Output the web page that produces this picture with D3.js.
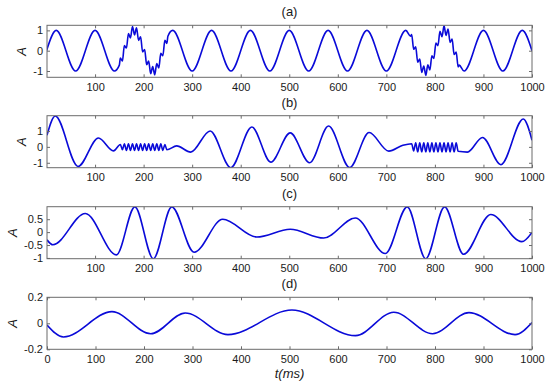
<!DOCTYPE html>
<html>
<head>
<meta charset="utf-8">
<script src="https://cdn.jsdelivr.net/npm/d3@7"></script>
<style>
  body { margin: 0; background: #fff; }
  svg { font-family: "Liberation Sans", Arial, sans-serif; }
</style>
</head>
<body>
<div id="chart"></div>
<script>
const width = 550, height = 388;

// (a) signal: 12.5 Hz sine with two short high-frequency bursts (peaks / troughs)
const sigA = [
  [0, 0], [20, 1], [60, -1], [100, 1], [140, -1], [150, -0.71],
  [152.1, -0.36], [156.3, -0.51], [160.4, 0.25], [164.6, 0.13], [168.8, 0.85], [172.9, 0.63],
  [177.1, 1.19], [181.3, 0.78], [185.4, 1.13], [189.6, 0.51], [193.8, 0.69], [197.9, -0.06],
  [202.1, 0.06], [206.3, -0.69], [210.4, -0.51], [214.6, -1.13], [218.8, -0.78], [222.9, -1.19],
  [227.1, -0.63], [231.3, -0.85], [235.4, -0.13], [239.6, -0.25], [243.8, 0.51], [247.9, 0.36],
  [250, 0.71], [260, 1], [300, -1], [340, 1], [380, -1], [420, 1], [460, -1], [500, 1],
  [540, -1], [580, 1], [620, -1], [660, 1], [700, -1], [740, 1], [750, 0.71],
  [752.1, 0.80], [756.3, 0.07], [760.4, 0.19], [764.6, -0.57], [768.8, -0.41], [772.9, -1.07],
  [777.1, -0.75], [781.3, -1.22], [785.4, -0.69], [789.6, -0.95], [793.8, -0.25], [797.9, -0.38],
  [802.1, 0.38], [806.3, 0.25], [810.4, 0.95], [814.6, 0.69], [818.8, 1.22], [822.9, 0.75],
  [827.1, 1.07], [831.3, 0.41], [835.4, 0.57], [839.6, -0.19], [843.8, -0.07], [847.9, -0.80],
  [850, -0.71], [860, -1], [900, 1], [940, -1], [980, 1], [1000, 0]
];

// (b) first IMF
const sigB = [
  [1, 0.73], [18, 1.94], [65, -1.23], [107, 0.56], [138, -0.25],
  [152.1, 0.15], [156.3, -0.18], [160.4, 0.19], [164.6, -0.22], [168.8, 0.19], [172.9, -0.22],
  [177.1, 0.19], [181.3, -0.22], [185.4, 0.19], [189.6, -0.22], [193.8, 0.19], [197.9, -0.22],
  [202.1, 0.19], [206.3, -0.22], [210.4, 0.19], [214.6, -0.22], [218.8, 0.19], [222.9, -0.22],
  [227.1, 0.19], [231.3, -0.22], [235.4, 0.19], [239.6, -0.22], [243.8, 0.15], [247.9, -0.18],
  [268, 0.06], [297, -0.33], [337, 1.0], [379.5, -1.31], [423, 1.25], [462, -0.96],
  [502, 0.88], [542, -1.0], [581, 1.31], [624.5, -1.3], [664.5, 0.9], [705, -0.27], [734, 0.1],
  [752.1, 0.2], [756.3, -0.25], [760.4, 0.26], [764.6, -0.31], [768.8, 0.26], [772.9, -0.31],
  [777.1, 0.26], [781.3, -0.31], [785.4, 0.26], [789.6, -0.31], [793.8, 0.26], [797.9, -0.31],
  [802.1, 0.26], [806.3, -0.31], [810.4, 0.26], [814.6, -0.31], [818.8, 0.26], [822.9, -0.31],
  [827.1, 0.26], [831.3, -0.31], [835.4, 0.26], [839.6, -0.31], [843.8, 0.26], [847.9, -0.28],
  [867, -0.33], [898, 0.59], [936, -1.12], [982, 1.75], [1000, 0.42]
];

// (c) second IMF
const sigC = [
  [1, -0.3], [13, -0.49], [80, 0.72], [144, -0.88], [182, 0.98], [220, -1.03], [258, 0.98],
  [304, -0.78], [363, 0.5], [433, -0.19], [502, 0.11], [571, -0.23], [636, 0.55], [698, -0.83],
  [743, 0.98], [781, -1.03], [820, 0.98], [859, -0.86], [915, 0.68], [979, -0.37], [1000, -0.01]
];

// (d) third IMF
const sigD = [
  [0, -0.013], [34, -0.105], [134, 0.09], [214, -0.08], [285, 0.079], [373, -0.087],
  [505, 0.102], [636, -0.095], [715, 0.085], [795, -0.08], [870, 0.082], [965, -0.087], [1000, 0.005]
];

const xTicksABC = [100, 200, 300, 400, 500, 600, 700, 800, 900, 1000];
const xTicksD = [0, 100, 200, 300, 400, 500, 600, 700, 800, 900, 1000];
const yTicksA = [-1, 0, 1];
const yTicksB = [-1, 0, 1];
const yTicksC = [-1, -0.5, 0, 0.5];
const yTicksD = [-0.2, 0, 0.2];

const panels = [
  { title: "(a)", data: sigA, xDomain: [1, 1000], xTicks: xTicksABC, yDomain: [-1.31, 1.25], yTicks: yTicksA, top: 25.3 },
  { title: "(b)", data: sigB, xDomain: [1, 1000], xTicks: xTicksABC, yDomain: [-1.31, 1.96], yTicks: yTicksB, top: 115.7 },
  { title: "(c)", data: sigC, xDomain: [1, 1000], xTicks: xTicksABC, yDomain: [-1.03, 0.985], yTicks: yTicksC, top: 206.7 },
  { title: "(d)", data: sigD, xDomain: [0, 1000], xTicks: xTicksD, yDomain: [-0.2, 0.2], yTicks: yTicksD, top: 297.3 }
];

const left = 47, right = 532, ph = 52;
const boxColor = "#6b6b6b", textColor = "#1a1a1a", lineColor = "#0a0ad8";

const svg = d3.select("#chart").append("svg")
    .attr("width", width)
    .attr("height", height);

panels.forEach(function (p, i) {
    const x = d3.scaleLinear().domain(p.xDomain).range([left, right]);
    const y = d3.scaleLinear().domain(p.yDomain).range([p.top + ph, p.top]);
    const g = svg.append("g");

    g.append("clipPath").attr("id", "clip" + i)
        .append("rect")
        .attr("x", left).attr("y", p.top)
        .attr("width", right - left).attr("height", ph);

    const line = d3.line()
        .x(d => x(d[0]))
        .y(d => y(d[1]))
        .curve(d3.curveMonotoneX);

    g.append("path")
        .datum(p.data)
        .attr("clip-path", "url(#clip" + i + ")")
        .attr("fill", "none")
        .attr("stroke", lineColor)
        .attr("stroke-width", 1.6)
        .attr("d", line);

    // inside ticks on all four sides, matlab style
    g.append("g")
        .attr("transform", `translate(0,${p.top + ph})`)
        .call(d3.axisBottom(x).tickValues(p.xTicks).tickSizeInner(-3).tickSizeOuter(0)
            .tickPadding(6).tickFormat(d => String(d)));
    g.append("g")
        .attr("transform", `translate(0,${p.top})`)
        .call(d3.axisTop(x).tickValues(p.xTicks).tickSizeInner(-3).tickSizeOuter(0).tickFormat(""));
    const leftAx = g.append("g")
        .attr("transform", `translate(${left},0)`)
        .call(d3.axisLeft(y).tickValues(p.yTicks).tickSizeInner(-3).tickSizeOuter(0)
            .tickPadding(4).tickFormat(d => String(d)));
    g.append("g")
        .attr("transform", `translate(${right},0)`)
        .call(d3.axisRight(y).tickValues(p.yTicks).tickSizeInner(-3).tickSizeOuter(0).tickFormat(""));

    g.selectAll(".domain").remove();
    g.selectAll(".tick line").attr("stroke", boxColor);
    g.selectAll(".tick text")
        .attr("fill", textColor)
        .style("font-size", "11px");

    g.append("rect")
        .attr("x", left).attr("y", p.top)
        .attr("width", right - left).attr("height", ph)
        .attr("fill", "none")
        .attr("stroke", boxColor)
        .attr("stroke-width", 1);

    g.append("text")
        .attr("x", (left + right) / 2)
        .attr("y", p.top - 9)
        .attr("text-anchor", "middle")
        .attr("fill", textColor)
        .style("font-size", "13px")
        .text(p.title);

    const bb = leftAx.node().getBBox();
    g.append("text")
        .attr("transform", `translate(${left + bb.x - 7},${p.top + ph / 2}) rotate(-90)`)
        .attr("text-anchor", "middle")
        .attr("fill", textColor)
        .style("font-size", "13px")
        .style("font-style", "italic")
        .text("A");
});

svg.append("text")
    .attr("x", (left + right) / 2)
    .attr("y", 378)
    .attr("text-anchor", "middle")
    .attr("fill", textColor)
    .style("font-size", "13px")
    .style("font-style", "italic")
    .text("t(ms)");
</script>
</body>
</html>
